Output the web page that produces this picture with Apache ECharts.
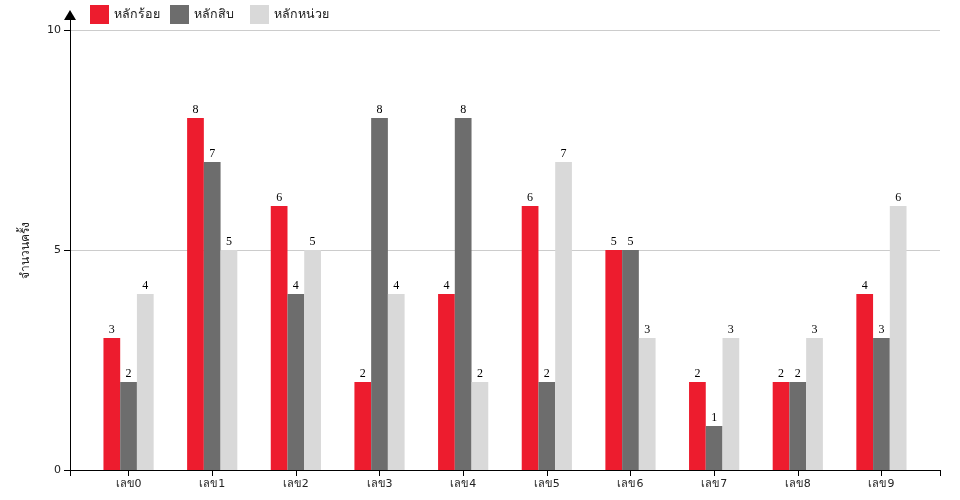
<!DOCTYPE html>
<html>
<head>
<meta charset="utf-8">
<script src="https://cdn.jsdelivr.net/npm/echarts@6/dist/echarts.min.js"></script>
<style>
  html, body { margin: 0; padding: 0; background: #fff; }
  #chart { width: 960px; height: 500px; }
</style>
</head>
<body>
<div id="chart"></div>
<script>
// ข้อมูล
const categories = ['เลข0', 'เลข1', 'เลข2', 'เลข3', 'เลข4', 'เลข5', 'เลข6', 'เลข7', 'เลข8', 'เลข9'];
const hundreds = [3, 8, 6, 2, 4, 6, 5, 2, 2, 4];
const tens = [2, 7, 4, 8, 8, 2, 5, 1, 2, 3];
const units = [4, 5, 5, 4, 2, 7, 3, 3, 3, 6];
const seriesNames = ['หลักร้อย', 'หลักสิบ', 'หลักหน่วย'];
const colors = ['#ed1c2e', '#6d6d6d', '#d9d9d9'];

// band layout: range 70..940, padding 0.4
const step = 870 / 10.4;
const barLeft = 70 + 0.4 * step + 0.3 * step - step / 2;
const barRight = 960 - (barLeft + 10 * step);
const barW = step * 0.6 / 3;

const labelCfg = {
    show: true,
    position: 'top',
    distance: 2,
    color: '#000',
    fontFamily: 'Liberation Serif, serif',
    fontSize: 12
};

function makeBar(name, data) {
    return {
        name: name,
        type: 'bar',
        xAxisIndex: 2,
        yAxisIndex: 2,
        barWidth: barW,
        barGap: '0%',
        label: labelCfg,
        data: data
    };
}

// one legend per item so spacing is fixed (80px)
function makeLegend(name, i) {
    return {
        left: 90 + i * 80,
        top: 5,
        padding: 0,
        itemWidth: 19,
        itemHeight: 19,
        icon: 'rect',
        textStyle: {fontSize: 12.5, color: '#222'},
        data: [name]
    };
}

const chart = echarts.init(document.getElementById('chart'));
chart.setOption({
    animation: false,
    color: colors,
    textStyle: {fontFamily: 'DejaVu Sans, sans-serif'},
    legend: seriesNames.map(makeLegend),
    grid: [
        {left: 70, right: 20, top: 30, bottom: 30},
        {left: 70, right: 20, top: 20, bottom: 30},
        {left: barLeft, right: barRight, top: 30, bottom: 30}
    ],
    xAxis: [
        {
            gridIndex: 0, type: 'value', min: 0, max: 1, interval: 1,
            axisLine: {show: true, lineStyle: {color: '#000', width: 1}},
            axisTick: {show: true, length: 6, lineStyle: {color: '#000'}},
            axisLabel: {show: false},
            splitLine: {show: false}
        },
        {gridIndex: 1, type: 'value', show: false},
        {
            gridIndex: 2, type: 'category', data: categories,
            axisLine: {show: false},
            axisTick: {show: true, alignWithLabel: true, length: 6, lineStyle: {color: '#000'}},
            axisLabel: {color: '#222', fontSize: 11, margin: 9}
        }
    ],
    yAxis: [
        {
            gridIndex: 0, type: 'value', min: 0, max: 10, interval: 5,
            name: 'จำนวนครั้ง',
            nameLocation: 'middle',
            nameGap: 38,
            nameTextStyle: {color: '#222', fontSize: 12},
            axisLine: {show: true, lineStyle: {color: '#000', width: 1}},
            axisTick: {show: true, length: 6, lineStyle: {color: '#000'}},
            axisLabel: {color: '#222', fontSize: 11, margin: 9},
            splitLine: {show: true, lineStyle: {color: '#cccccc', width: 1}}
        },
        {
            gridIndex: 1, type: 'value', min: 0, max: 10 * 450 / 440,
            axisLine: {
                show: true,
                lineStyle: {color: '#000', width: 1},
                symbol: ['none', 'triangle'],
                symbolSize: [12, 10],
                symbolOffset: [0, 5]
            },
            axisTick: {show: false},
            axisLabel: {show: false},
            splitLine: {show: false}
        },
        {gridIndex: 2, type: 'value', min: 0, max: 10, show: false}
    ],
    series: [
        makeBar(seriesNames[0], hundreds),
        makeBar(seriesNames[1], tens),
        makeBar(seriesNames[2], units)
    ]
});
</script>
</body>
</html>
